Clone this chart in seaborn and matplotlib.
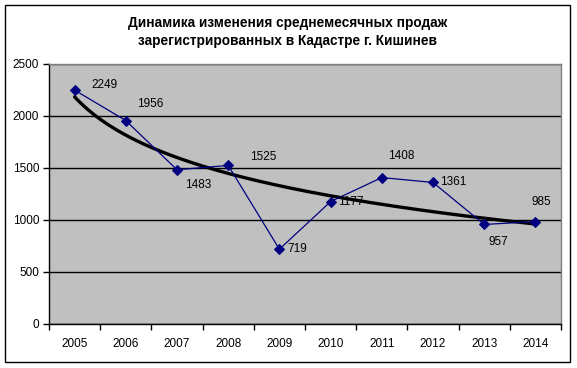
import numpy as np
import pandas as pd
import seaborn as sns
import matplotlib.pyplot as plt
from matplotlib.patches import Rectangle

years = ['2005', '2006', '2007', '2008', '2009', '2010', '2011', '2012', '2013', '2014']
sales = [2249, 1956, 1483, 1525, 719, 1177, 1408, 1361, 957, 985]
# label offsets (pixels) relative to each point, as in the original
label_dx = [30, 24, 21, 35, 18, 20, 19, 20, 14, 6]
label_dy = [5, 17, -15, 8, 0, 0, 22, 0, -18, 20]

title = 'Динамика изменения среднемесячных продаж\nзарегистрированных в Кадастре г. Кишинев'

sns.set_theme(style='white')
plt.rcParams['font.family'] = ['Liberation Sans', 'DejaVu Sans']
plt.rcParams['text.color'] = 'black'
plt.rcParams['xtick.color'] = 'black'
plt.rcParams['ytick.color'] = 'black'

df = pd.DataFrame({'pos': np.arange(len(years)), 'sales': sales})

fig = plt.figure(figsize=(5.77, 3.68), dpi=100)
ax = fig.add_axes([49 / 577, 1 - 324 / 368, 512 / 577, 260 / 368])
ax.set_facecolor('#C0C0C0')

# logarithmic trend line (Excel style), fitted on the data
xs = df['pos'].values + 1
b, a = np.polyfit(np.log(xs), df['sales'].values, 1)
xf = np.linspace(1, len(years), 200)
ax.plot(xf - 1, a + b * np.log(xf), color='black', lw=2.4, zorder=3)

sns.lineplot(data=df, x='pos', y='sales', ax=ax, color='#000080', lw=0.9,
             marker='D', markersize=5, markeredgecolor='#000080', zorder=4)

for i, v in enumerate(sales):
    ax.annotate(str(v), (i, v), xytext=(label_dx[i], label_dy[i]),
                textcoords='offset pixels', ha='center', va='center',
                fontsize=8.5, color='black', zorder=5)

ax.set_xlim(-0.5, len(years) - 0.5)
ax.set_ylim(0, 2500)
ax.set_yticks(np.arange(0, 2501, 500))
ax.yaxis.grid(True, color='black', lw=1)
ax.set_axisbelow(True)
ax.set_xticks(np.arange(-0.5, len(years), 1))
ax.set_xticklabels([])
ax.set_xticks(np.arange(len(years)), minor=True)
ax.set_xticklabels(years, minor=True)
ax.tick_params(axis='x', which='major', direction='out', length=4, width=1, color='black', bottom=True)
ax.tick_params(axis='x', which='minor', length=0, pad=10, labelsize=8.5)
ax.tick_params(axis='y', direction='out', length=4, width=1, color='black', left=True, labelsize=8.5, pad=3)
ax.set_xlabel('')
ax.set_ylabel('')

for s in ['left', 'bottom']:
    ax.spines[s].set_color('black')
    ax.spines[s].set_linewidth(1)
for s in ['top', 'right']:
    ax.spines[s].set_color('#808080')
    ax.spines[s].set_linewidth(1)

fig.text(288 / 577, 1 - 32 / 368, title, ha='center', va='center',
         fontsize=9.8, fontweight='bold', linespacing=1.45)

fig.patches.append(Rectangle((5 / 577, 1 - 362 / 368), 565 / 577, 357 / 368,
                             transform=fig.transFigure, fill=False,
                             edgecolor='black', lw=1))

fig.savefig('out.png', dpi=100)
